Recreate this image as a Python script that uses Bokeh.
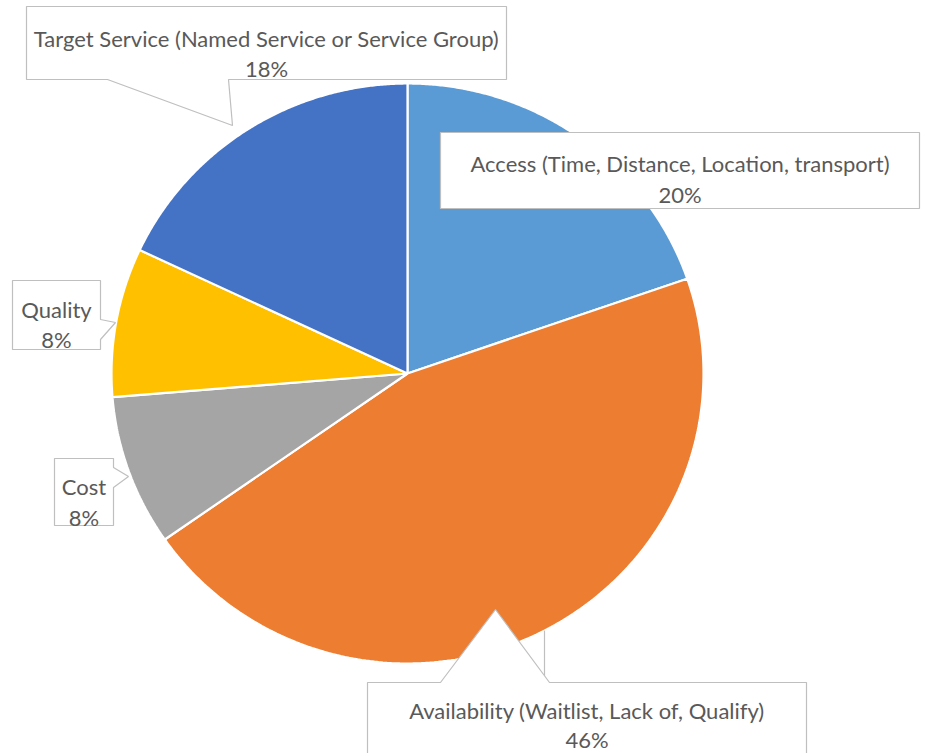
import numpy as np
from bokeh.plotting import figure
from bokeh.models import Range1d
from bokeh.core.properties import value
from bokeh.embed import file_html
from bokeh.resources import INLINE

# ---- data ----
categories = [
    "Access (Time, Distance, Location, transport)",
    "Availability (Waitlist, Lack of, Qualify)",
    "Cost",
    "Quality",
    "Target Service (Named Service or Service Group)",
]
shares = [19.7, 45.6, 8.4, 8.3, 18.0]
pct_labels = ["20%", "46%", "8%", "8%", "18%"]
colors = ["#5B9BD5", "#ED7D31", "#A5A5A5", "#FFC000", "#4472C4"]

# ---- layout (pixel-like data space, y down) ----
CX, CY, RX, RY = 407, 373, 296, 290
FONT = "Lato"
FSIZE = "22px"
TXT = "#595959"
BORDER = "#BFBFBF"
W, H = 925, 753

# label boxes: callout outline polygons, text centre x, baselines
callouts = [
    dict(xs=[440, 919, 919, 440], ys=[132, 132, 208, 208], cx=679.5, b1=163, b2=194),
    dict(xs=[367, 440, 495, 549, 806, 806, 367], ys=[682, 682, 609, 682, 682, 770, 770],
         cx=586.5, b1=710, b2=739),
    dict(xs=[54, 113, 113, 128, 113, 113, 54], ys=[458, 458, 467, 476, 487, 525, 525],
         cx=83.5, b1=486, b2=517),
    dict(xs=[12, 100, 100, 115, 100, 100, 12], ys=[280, 280, 319, 322, 339, 349, 349],
         cx=56, b1=309, b2=339),
    dict(xs=[26, 506, 506, 228, 232, 107, 26], ys=[6, 6, 79, 79, 125, 79, 79],
         cx=266, b1=38, b2=68),
]

p = figure(width=W, height=H, output_backend="svg", toolbar_location=None,
           x_range=Range1d(0, W), y_range=Range1d(H, 0),
           x_axis_type=None, y_axis_type=None, min_border=0)
p.outline_line_color = None
p.xgrid.visible = False
p.ygrid.visible = False
p.background_fill_color = "white"

total = float(sum(shares))
cum = np.concatenate([[0.0], np.cumsum(shares) / total]) * 2 * np.pi
wx, wy = [], []
for i in range(len(shares)):
    th = np.linspace(cum[i], cum[i + 1], 200)
    wx.append([CX] + list(CX + RX * np.sin(th)) + [CX])
    wy.append([CY] + list(CY - RY * np.cos(th)) + [CY])
p.patches(wx, wy, fill_color=colors, line_color="white", line_width=2.2)

# leader line for Availability (from pie edge down to its box)
lx = 544
ly = CY + RY * np.sqrt(1 - ((lx - CX) / RX) ** 2)
p.segment(x0=[lx], y0=[ly], x1=[lx], y1=[682], line_color=BORDER, line_width=1.2)

for i, c in enumerate(callouts):
    p.patch(c["xs"], c["ys"], fill_color="white", line_color=BORDER, line_width=1.2)
    p.text(x=[c["cx"]], y=[c["b1"]], text=[categories[i]], text_align="center",
           text_baseline="alphabetic", text_color=TXT, text_font=value(FONT),
           text_font_size=FSIZE)
    p.text(x=[c["cx"]], y=[c["b2"]], text=[pct_labels[i]], text_align="center",
           text_baseline="alphabetic", text_color=TXT, text_font=value(FONT),
           text_font_size=FSIZE)

open("out.html", "w").write(file_html(p, INLINE))
